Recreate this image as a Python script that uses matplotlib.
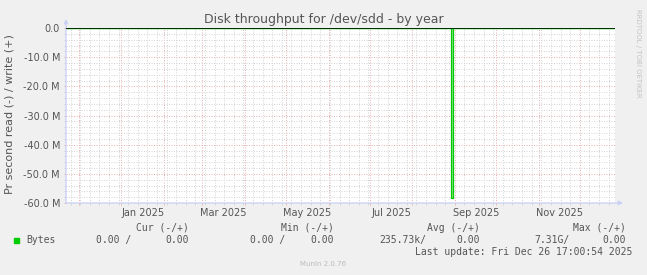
import matplotlib
matplotlib.use('Agg')
import matplotlib.pyplot as plt
import matplotlib.dates as mdates
import matplotlib.ticker as mtick
from matplotlib.patches import Rectangle
import numpy as np

# data (MB per second, read is drawn negative)
sample_dates = ['2024-11-21 17:00', '2025-08-29 00:00', '2025-08-31 00:00', '2025-12-26 17:00']
read_mb = [0.0, -58.2, 0.0, 0.0]
write_mb = [0.0, 0.0, 0.0, 0.0]
period = ['2024-11-21 17:00', '2025-12-26 17:00']
label_months = ['2025-01', '2025-03', '2025-05', '2025-07', '2025-09', '2025-11']

stat_names = ['Cur (-/+)', 'Min (-/+)', 'Avg (-/+)', 'Max (-/+)']
read_stats = ['0.00 ', '0.00 ', '235.73k', '7.31G']
write_stats = ['0.00', '0.00', '0.00', '0.00']
last_update = 'Last update: Fri Dec 26 17:00:54 2025'

W, H = 647, 275
TXT = '#555555'
GREEN = '#00CC00'
MGRID = '#E8B4B4'
GRID = '#D6D6D6'
AXIS = '#C8D0F6'

def fx(px):
	return px / W

def fy(py):
	return 1 - py / H

fig = plt.figure(figsize=(W/100, H/100), dpi=100, facecolor='#F0F0F0')
ax = fig.add_axes([fx(66), fy(203), (615-66)/W, 175/H], facecolor='white')

x = mdates.date2num(np.array(sample_dates, dtype='datetime64[m]'))
ax.fill_between(x, read_mb, 0, step='post', color='#8FE08F', lw=0, zorder=2.5)
ax.plot(x, read_mb, drawstyle='steps-post', color=GREEN, lw=0.9, zorder=3)
ax.plot(x, write_mb, drawstyle='steps-post', color=GREEN, lw=0.9, zorder=3)
ax.axhline(0, color='black', lw=1.1, zorder=4)

x0, x1 = mdates.date2num(np.array(period, dtype='datetime64[m]'))
ax.set_xlim(x0, x1)
ax.set_ylim(-60, 0)

for s in ax.spines.values():
	s.set_visible(False)

ax.xaxis.set_major_locator(mdates.MonthLocator())
ax.xaxis.set_minor_locator(mdates.WeekdayLocator(byweekday=mdates.MO))
ax.xaxis.set_major_formatter(mtick.NullFormatter())
ax.yaxis.set_major_locator(mtick.MultipleLocator(10))
ax.yaxis.set_minor_locator(mtick.MultipleLocator(2))
ax.yaxis.set_major_formatter(mtick.FuncFormatter(lambda v, p: '0.0' if abs(v) < 1e-9 else '%.1f M' % v))

ax.set_axisbelow(True)
ax.grid(which='minor', color=GRID, lw=0.72, ls=(0, (1, 1.5)))
ax.grid(which='major', color=MGRID, lw=0.72, ls=(0, (1, 1.5)))
ax.tick_params(which='major', length=1.5, width=0.72, color=MGRID, labelsize=7, labelcolor=TXT, pad=2.8)
ax.tick_params(which='minor', length=1.5, width=0.72, color=GRID)

for m in label_months:
	d = mdates.date2num(np.datetime64(m + '-01')) + 15.5
	ax.text(d, -0.055, mdates.num2date(d).strftime('%b %Y'), transform=ax.get_xaxis_transform(),
		ha='center', va='center', fontsize=7, color=TXT)

# axes with arrows
ax.annotate('', xy=(0, 1 + 9/175), xytext=(0, 0), xycoords='axes fraction',
	arrowprops=dict(arrowstyle='-|>', color=AXIS, lw=0.9, mutation_scale=6, shrinkA=0, shrinkB=0), annotation_clip=False)
ax.annotate('', xy=(1 + 8/549, 0), xytext=(0, 0), xycoords='axes fraction',
	arrowprops=dict(arrowstyle='-|>', color=AXIS, lw=0.9, mutation_scale=6, shrinkA=0, shrinkB=0), annotation_clip=False)

fig.text(fx(324), fy(19.3), 'Disk throughput for /dev/sdd - by year', ha='center', va='center', fontsize=9, color=TXT)
fig.text(fx(10), fy(114), 'Pr second read (-) / write (+)', rotation=90, ha='center', va='center', fontsize=8, color=TXT)
fig.text(fx(637.7), fy(53.4), 'RRDTOOL / TOBI OETIKER', rotation=270, ha='center', va='center', fontsize=5, color='#C4C4C4')
fig.text(fx(322.6), fy(264.3), 'Munin 2.0.76', ha='center', va='center', fontsize=5, color='#BBBBBB')

# legend block
mono = 'DejaVu Sans Mono'
head_x = [189, 334.2, 480.2, 626.2]
slash_x = [131.2, 285.5, 426.6, 569.3]
for i in range(4):
	fig.text(fx(head_x[i]), fy(227.7), stat_names[i], ha='right', va='center', fontsize=7, family=mono, color=TXT)
	fig.text(fx(slash_x[i]), fy(240), read_stats[i] + '/', ha='right', va='center', fontsize=7, family=mono, color=TXT)
	fig.text(fx(head_x[i]), fy(240), write_stats[i], ha='right', va='center', fontsize=7, family=mono, color=TXT)
fig.patches.append(Rectangle((fx(14.4), fy(242.5)), 5/W, 5/H, transform=fig.transFigure, color=GREEN))
fig.text(fx(26), fy(240), 'Bytes', ha='left', va='center', fontsize=7, family=mono, color=TXT)
fig.text(fx(632.4), fy(251.7), last_update, ha='right', va='center', fontsize=7, family=mono, color=TXT)

fig.savefig('out.png', dpi=100, facecolor=fig.get_facecolor())
